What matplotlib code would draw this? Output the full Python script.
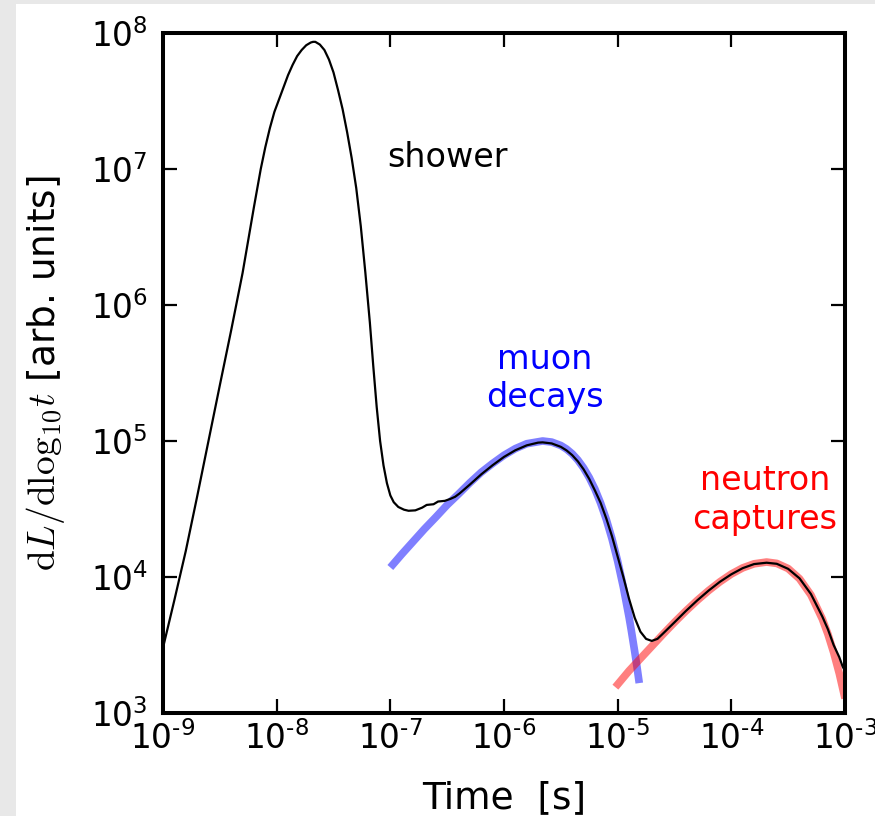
import numpy as np
import matplotlib
matplotlib.use("Agg")
import matplotlib.pyplot as plt
from matplotlib.patches import Rectangle
from matplotlib.ticker import FixedLocator, FixedFormatter, NullLocator

# ---- data (log10 of time [s], log10 of dL/dlog10 t) ----
total_logt = [-9.0, -8.9, -8.8, -8.7, -8.6, -8.5, -8.4, -8.3, -8.2, -8.14, -8.1, -8.06,
              -8.02, -7.98, -7.94, -7.9, -7.86, -7.82, -7.78, -7.74, -7.7, -7.68, -7.66,
              -7.62, -7.58, -7.54, -7.5, -7.46, -7.42, -7.38, -7.34, -7.3, -7.26, -7.22,
              -7.18, -7.15, -7.12, -7.09, -7.06, -7.03, -7.0, -6.97, -6.93, -6.88, -6.84,
              -6.78, -6.72, -6.68, -6.62, -6.58, -6.52, -6.47, -6.43, -6.39, -6.3, -6.2,
              -6.1, -6.0, -5.9, -5.8, -5.7, -5.66, -5.58, -5.5, -5.45, -5.4, -5.35, -5.3,
              -5.25, -5.2, -5.15, -5.1, -5.05, -5.0, -4.95, -4.9, -4.85, -4.8, -4.75,
              -4.7, -4.65, -4.6, -4.5, -4.4, -4.3, -4.2, -4.1, -4.0, -3.9, -3.8, -3.69,
              -3.6, -3.5, -3.4, -3.3, -3.2, -3.15, -3.1, -3.05, -3.02, -3.0]
total_logy = [3.48, 3.83, 4.19, 4.59, 5.0, 5.41, 5.815, 6.235, 6.72, 7.0, 7.16, 7.3,
              7.42, 7.51, 7.6, 7.69, 7.765, 7.83, 7.875, 7.91, 7.93, 7.935, 7.935,
              7.915, 7.875, 7.805, 7.71, 7.58, 7.44, 7.27, 7.08, 6.86, 6.58, 6.24,
              5.87, 5.55, 5.25, 5.0, 4.82, 4.69, 4.6, 4.55, 4.515, 4.495, 4.487,
              4.49, 4.51, 4.53, 4.535, 4.555, 4.56, 4.575, 4.59, 4.615, 4.68, 4.755,
              4.822, 4.883, 4.932, 4.968, 4.988, 4.99, 4.982, 4.957, 4.931, 4.896, 4.85, 4.792,
              4.721, 4.636, 4.545, 4.43, 4.3, 4.15, 4.0, 3.84, 3.7, 3.598, 3.545,
              3.53, 3.545, 3.585, 3.667, 3.75, 3.828, 3.9, 3.965, 4.02, 4.065, 4.095, 4.105,
              4.097, 4.06, 3.99, 3.875, 3.71, 3.615, 3.50, 3.41, 3.34, 3.31]

muon_logt = [-7.0, -6.9, -6.8, -6.7, -6.6, -6.5, -6.4, -6.3, -6.2, -6.1, -6.0, -5.9,
             -5.8, -5.66, -5.58, -5.5, -5.45, -5.4, -5.35, -5.3, -5.25, -5.2, -5.15,
             -5.1, -5.05, -5.0, -4.95, -4.9, -4.88, -4.85, -4.83, -4.81]
muon_logy = [4.07, 4.167, 4.26, 4.353, 4.44, 4.53, 4.61, 4.693, 4.77, 4.835, 4.895, 4.944,
             4.98, 5.0, 4.992, 4.967, 4.941, 4.906, 4.86, 4.802, 4.731, 4.646, 4.543,
             4.423, 4.281, 4.116, 3.925, 3.705, 3.607, 3.451, 3.339, 3.22]

neutron_logt = [-5.02, -4.9, -4.8, -4.7, -4.6, -4.5, -4.4, -4.3, -4.2, -4.1, -4.0,
                -3.9, -3.8, -3.69, -3.6, -3.5, -3.4, -3.3, -3.2, -3.15, -3.1, -3.05, -3.0]
neutron_logy = [3.19, 3.31, 3.40, 3.49, 3.58, 3.667, 3.75, 3.828, 3.90, 3.965, 4.022,
                4.067, 4.097, 4.11, 4.10, 4.062, 3.987, 3.868, 3.692, 3.579, 3.445, 3.289, 3.107]

x_ticks = [1e-9, 1e-8, 1e-7, 1e-6, 1e-5, 1e-4, 1e-3]
x_ticklabels = ["-9", "-8", "-7", "-6", "-5", "-4", "-3"]
y_ticks = [1e3, 1e4, 1e5, 1e6, 1e7, 1e8]
y_ticklabels = ["3", "4", "5", "6", "7", "8"]

# ---- figure ----
W, H = 875, 816
fig = plt.figure(figsize=(W / 100, H / 100), dpi=100, facecolor="#e8e8e8")
fig.patches.append(Rectangle((16 / W, 0), 1 - 16 / W, 1 - 4 / H,
                             transform=fig.transFigure, facecolor="white",
                             edgecolor="none", zorder=-5))
ax = fig.add_axes([163 / W, 1 - 713 / H, (845 - 163) / W, (713 - 33) / H])
ax.set_zorder(1)

ax.plot(10 ** np.array(muon_logt), 10 ** np.array(muon_logy), color="blue",
        alpha=0.5, lw=5.5, solid_capstyle="butt", solid_joinstyle="round", zorder=2)
ax.plot(10 ** np.array(neutron_logt), 10 ** np.array(neutron_logy), color="red",
        alpha=0.5, lw=5.5, solid_capstyle="butt", solid_joinstyle="round", zorder=2)
ax.plot(10 ** np.array(total_logt), 10 ** np.array(total_logy), color="black",
        lw=1.6, solid_joinstyle="round", zorder=3)

ax.set_xscale("log")
ax.set_yscale("log")
ax.set_xlim(1e-9, 1e-3)
ax.set_ylim(1e3, 1e8)

ax.xaxis.set_major_locator(FixedLocator(x_ticks))
ax.yaxis.set_major_locator(FixedLocator(y_ticks))
ax.xaxis.set_minor_locator(NullLocator())
ax.yaxis.set_minor_locator(NullLocator())
ax.xaxis.set_major_formatter(FixedFormatter([r"$10^{\text{-}%s}$" % s[1:] for s in x_ticklabels]))
ax.yaxis.set_major_formatter(FixedFormatter([r"$10^{%s}$" % s for s in y_ticklabels]))

ax.tick_params(axis="both", which="major", direction="in", length=10, width=1.6,
               top=True, right=True, labelsize=23.5)
ax.tick_params(axis="x", pad=6)
ax.tick_params(axis="y", pad=11)
for sp in ax.spines.values():
    sp.set_linewidth(2.9)

ax.set_xlabel("Time  [s]", fontsize=27, labelpad=17)
ax.set_ylabel(r"$\mathrm{d}L/\mathrm{dlog}_{10}t$ [arb. units]", fontsize=27,
              labelpad=17, math_fontfamily="cm")

ax.text(9.3e-8, 1.22e7, "shower", fontsize=24, color="black", ha="left", va="center")
ax.text(2.3e-6, 2.9e5, "muon\ndecays", fontsize=24, color="blue", ha="center",
        va="center", linespacing=1.2)
ax.text(1.98e-4, 3.68e4, "neutron\ncaptures", fontsize=24, color="red", ha="center",
        va="center", linespacing=1.2)

fig.savefig("out.png", dpi=100, facecolor=fig.get_facecolor())
